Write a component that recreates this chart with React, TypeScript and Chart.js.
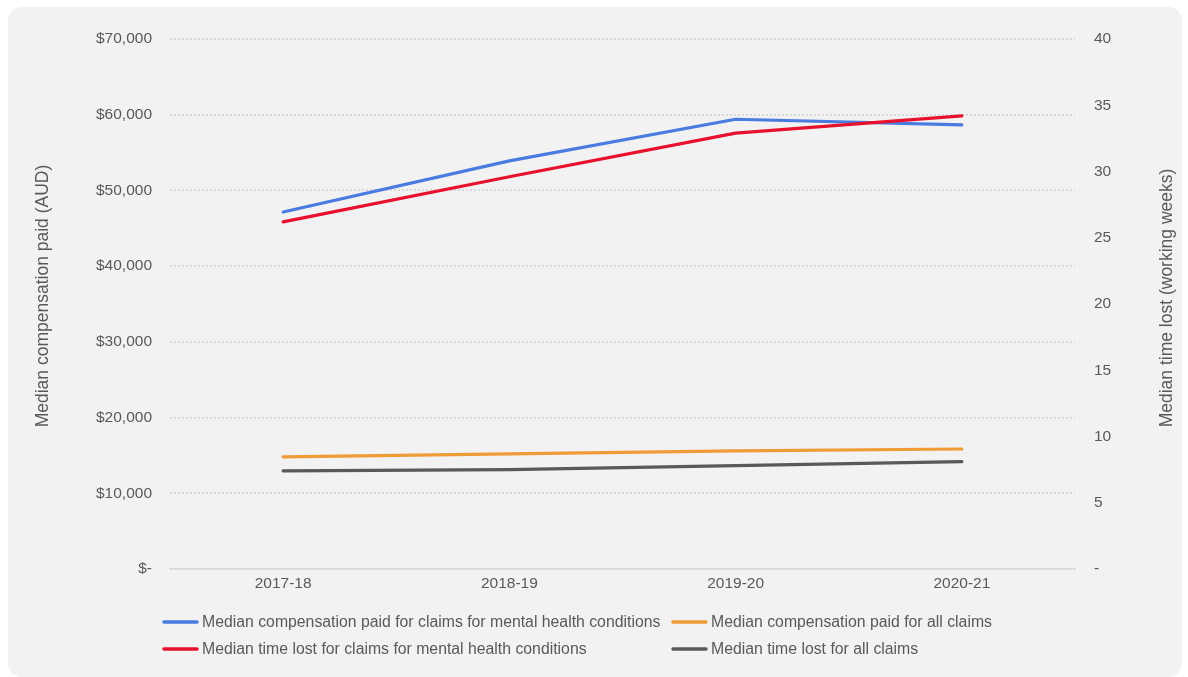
import React, { useEffect, useRef } from "react";
import { Chart, registerables } from "chart.js";

Chart.register(...registerables);

const categories = ["2017-18", "2018-19", "2019-20", "2020-21"];
const compMental = [47150, 53900, 59400, 58650];
const compAll = [14800, 15200, 15600, 15850];
const timeMental = [26.2, 29.6, 32.9, 34.2];
const timeAll = [7.4, 7.5, 7.8, 8.1];

const seriesNames = [
  "Median compensation paid for claims for mental health conditions",
  "Median compensation paid for all claims",
  "Median time lost for claims for mental health conditions",
  "Median time lost for all claims",
];
const seriesColors = ["#4a7be0", "#ef9b36", "#e8112d", "#595959"];

const leftTitle = "Median compensation paid (AUD)";
const rightTitle = "Median time lost (working weeks)";

const FONT = "'Liberation Sans', Arial, Helvetica, sans-serif";
const TEXT = "#595959";

const W = 1174;
const H = 670;

const customPlugin = {
  id: "customDecor",
  afterDraw(chart: any) {
    const ctx = chart.ctx;
    const area = chart.chartArea;
    ctx.save();
    // Axis titles (both read bottom-to-top)
    ctx.fillStyle = TEXT;
    ctx.font = `17.5px ${FONT}`;
    ctx.textAlign = "center";
    ctx.textBaseline = "middle";
    ctx.save();
    ctx.translate(35, 289);
    ctx.rotate(-Math.PI / 2);
    ctx.fillText(leftTitle, 0, 0);
    ctx.restore();
    ctx.save();
    ctx.translate(1159, 291);
    ctx.rotate(-Math.PI / 2);
    ctx.fillText(rightTitle, 0, 0);
    ctx.restore();

    // Legend in two aligned columns
    const colX = [area.left - 7, area.left + 502];
    const rowY = [615, 642];
    const order = [
      [0, 0, 0],
      [1, 1, 0],
      [2, 0, 1],
      [3, 1, 1],
    ];
    ctx.font = `15.8px ${FONT}`;
    ctx.textAlign = "left";
    ctx.textBaseline = "middle";
    order.forEach(([i, c, r]) => {
      const x = colX[c];
      const y = rowY[r];
      ctx.strokeStyle = seriesColors[i];
      ctx.lineWidth = 3.5;
      ctx.lineCap = "round";
      ctx.beginPath();
      ctx.moveTo(x + 1, y);
      ctx.lineTo(x + 34, y);
      ctx.stroke();
      ctx.fillStyle = TEXT;
      ctx.fillText(seriesNames[i], x + 39, y + 0.5);
    });
    ctx.restore();
  },
};

export default function App() {
  const ref = useRef<HTMLCanvasElement | null>(null);

  useEffect(() => {
    if (!ref.current) return;
    const mk = (label: string, data: number[], color: string, axis: string, order: number) => ({
      label,
      data,
      borderColor: color,
      backgroundColor: color,
      borderWidth: 3.2,
      pointRadius: 0,
      pointHoverRadius: 0,
      tension: 0,
      borderCapStyle: "round",
      borderJoinStyle: "round",
      yAxisID: axis,
      order,
      fill: false,
    });
    const chart = new Chart(ref.current, {
      type: "line",
      data: {
        labels: categories,
        datasets: [
          mk(seriesNames[0], compMental, seriesColors[0], "y", 2),
          mk(seriesNames[1], compAll, seriesColors[1], "y", 3),
          mk(seriesNames[2], timeMental, seriesColors[2], "y1", 1),
          mk(seriesNames[3], timeAll, seriesColors[3], "y1", 4),
        ] as any,
      },
      options: {
        animation: false,
        responsive: false,
        devicePixelRatio: 1,
        layout: { padding: { top: 32, left: 0, right: 0, bottom: 0 } },
        plugins: {
          legend: { display: false },
          tooltip: { enabled: false },
          title: { display: false },
        },
        scales: {
          x: {
            offset: true,
            grid: { display: false, drawTicks: false },
            border: { display: true, color: "#d9d9d9", width: 1.5 },
            ticks: {
              color: TEXT,
              font: { family: FONT, size: 15.5 },
              padding: 5,
              maxRotation: 0,
            },
            afterFit: (s: any) => {
              s.height = 108;
            },
          },
          y: {
            position: "left",
            min: 0,
            max: 70000,
            ticks: {
              stepSize: 10000,
              color: TEXT,
              font: { family: FONT, size: 15.5 },
              padding: 18,
              callback: (v: any) =>
                Number(v) === 0 ? "$-" : "$" + Number(v).toLocaleString("en-US"),
            },
            grid: { color: "#d9d9d9", lineWidth: 2, drawTicks: false },
            border: { display: false, dash: [2, 2] },
            afterFit: (s: any) => {
              s.width = 162;
            },
          },
          y1: {
            position: "right",
            min: 0,
            max: 40,
            ticks: {
              stepSize: 5,
              color: TEXT,
              font: { family: FONT, size: 15.5 },
              padding: 19,
              callback: (v: any) => (Number(v) === 0 ? "-" : String(v)),
            },
            grid: { display: false, drawTicks: false },
            border: { display: false },
            afterFit: (s: any) => {
              s.width = 107;
            },
          },
        },
      } as any,
      plugins: [customPlugin],
    });
    return () => chart.destroy();
  }, []);

  return (
    <div
      style={{
        position: "fixed",
        left: 8,
        top: 7,
        width: W,
        height: H,
        borderRadius: 14,
        background: "#f2f2f2",
        overflow: "hidden",
      }}
    >
      <canvas ref={ref} width={W} height={H} style={{ display: "block", width: W, height: H }} />
    </div>
  );
}
